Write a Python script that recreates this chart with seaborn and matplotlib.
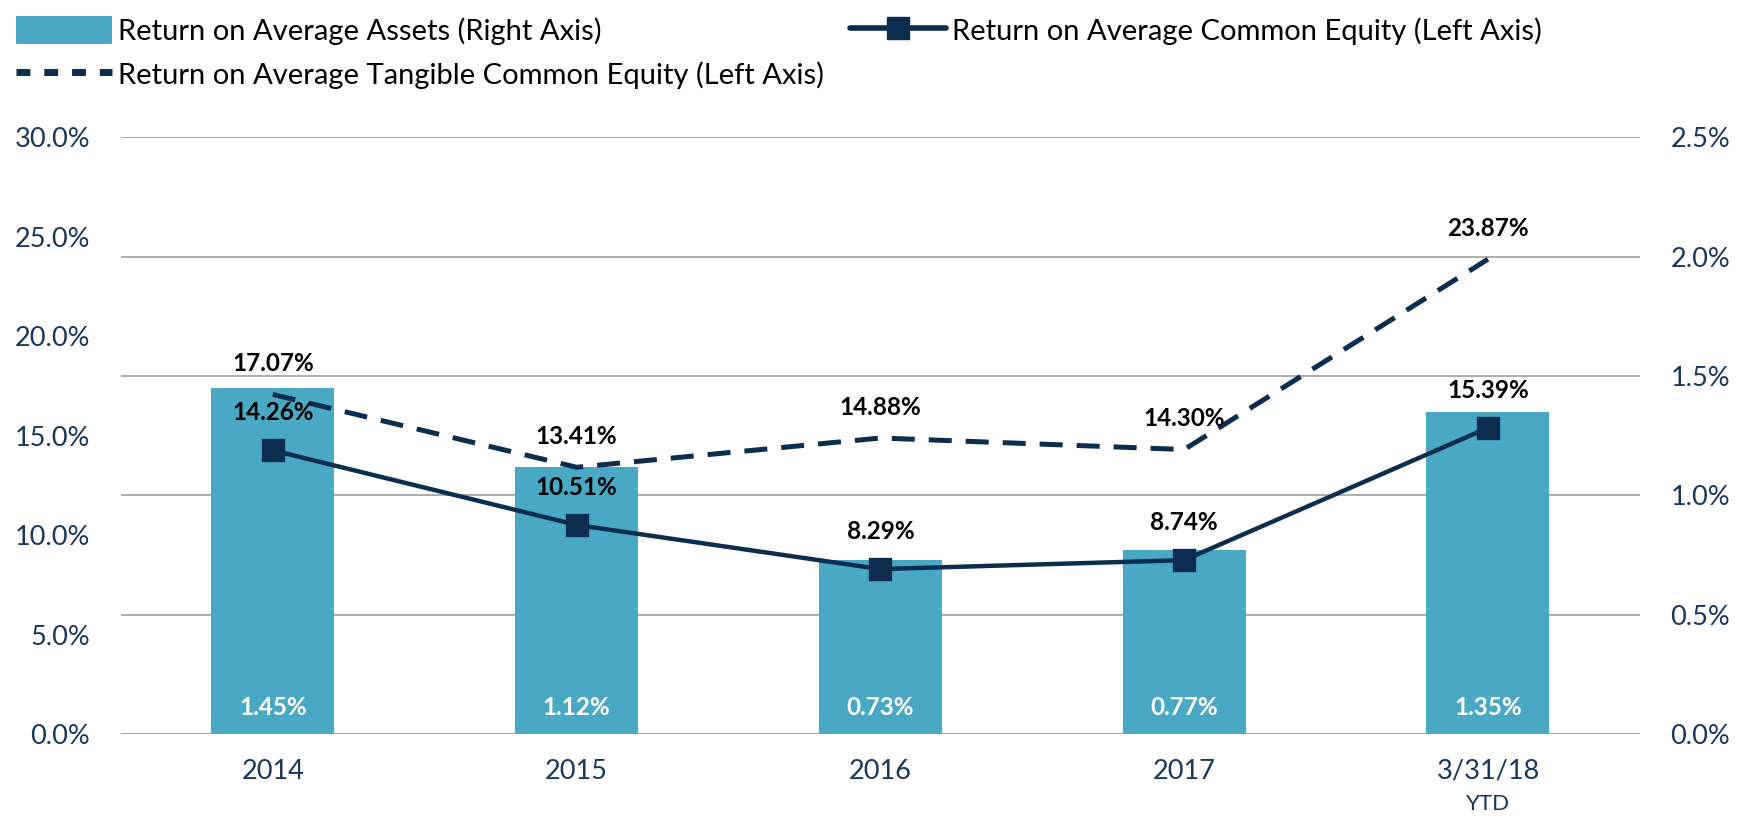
import matplotlib
matplotlib.use("Agg")
import matplotlib.pyplot as plt
import matplotlib.ticker as mticker
from matplotlib.patches import Patch
from matplotlib.lines import Line2D
import seaborn as sns

# chart data
periods = ["2014", "2015", "2016", "2017", "3/31/18"]
roaa = [1.45, 1.12, 0.73, 0.77, 1.35]        # right axis, %
roace = [14.26, 10.51, 8.29, 8.74, 15.39]    # left axis, %
rotce = [17.07, 13.41, 14.88, 14.30, 23.87]  # left axis, %

BAR_COLOR = "#49A9C5"
NAVY = "#0B2D4E"
TICK_COLOR = "#17375E"
GRID_COLOR = "#A6A6A6"

sns.set_theme(style="white")
plt.rcParams["font.family"] = ["Lato", "DejaVu Sans"]

fig = plt.figure(figsize=(17.52, 8.17), dpi=100)
ax = fig.add_axes([0.069, 0.1016, 0.867, 0.7304])
ax2 = ax.twinx()

# bars on the right axis, drawn behind the lines
sns.barplot(x=periods, y=roaa, ax=ax2, color=BAR_COLOR, width=0.405,
            saturation=1, edgecolor="none", zorder=2)
ax2.set_ylim(0, 2.5)
ax2.yaxis.set_major_locator(mticker.MultipleLocator(0.5))
ax2.yaxis.set_major_formatter(mticker.FuncFormatter(lambda v, p: f"{v:.1f}%"))
ax2.grid(axis="y", color=GRID_COLOR, linewidth=1.3, zorder=0)
ax2.set_axisbelow(True)

ax.set_zorder(ax2.get_zorder() + 1)
ax.patch.set_visible(False)

sns.pointplot(x=periods, y=rotce, ax=ax, color=NAVY, markers="",
              linestyles="--", linewidth=3.6)
sns.pointplot(x=periods, y=roace, ax=ax, color=NAVY, markers="s",
              linestyles="-", linewidth=3.2, markersize=15)
for ln in ax.lines[:1]:
    ln.set_dashes((4.6, 2.8))

ax.set_ylim(0, 30)
ax.set_xlim(-0.5, 4.5)
ax.yaxis.set_major_locator(mticker.MultipleLocator(5))
ax.yaxis.set_major_formatter(mticker.FuncFormatter(lambda v, p: f"{v:.1f}%"))
ax.grid(False)

for a in (ax, ax2):
    for s in a.spines.values():
        s.set_visible(False)
    a.set_xlabel("")
    a.set_ylabel("")
    a.tick_params(axis="both", length=0, labelsize=19.5, labelcolor=TICK_COLOR)
ax.tick_params(axis="y", pad=22)
ax2.tick_params(axis="y", pad=22)
ax.tick_params(axis="x", pad=18)

# x-axis baseline
ax2.axhline(0, color=GRID_COLOR, linewidth=2, zorder=1)

# YTD sub-label under the last period
ax.text(4, -0.1, "YTD", transform=ax.get_xaxis_transform(), ha="center",
        va="top", fontsize=16, color=TICK_COLOR)

# data labels
for i, v in enumerate(rotce):
    ax.annotate(f"{v:.2f}%", (i, v), xytext=(0, 22), textcoords="offset points",
                ha="center", va="center", fontsize=17.5, fontweight="bold", color="black")
for i, v in enumerate(roace):
    ax.annotate(f"{v:.2f}%", (i, v), xytext=(0, 27), textcoords="offset points",
                ha="center", va="center", fontsize=17.5, fontweight="bold", color="black")
for i, v in enumerate(roaa):
    ax2.text(i, 0.11, f"{v:.2f}%", ha="center", va="center", fontsize=17.5,
             fontweight="bold", color="white", zorder=3)

handles = [
    Patch(facecolor=BAR_COLOR, edgecolor="none"),
    Line2D([], [], color=NAVY, linestyle=(0, (2.0, 2.0)), linewidth=5),
    Line2D([], [], color=NAVY, marker="s", markersize=16, linewidth=4),
]
labels = [
    "Return on Average Assets (Right Axis)",
    "Return on Average Tangible Common Equity (Left Axis)",
    "Return on Average Common Equity (Left Axis)",
]
fig.legend(handles, labels, ncol=2, loc="upper left", bbox_to_anchor=(-0.006, 1.012),
           frameon=False, fontsize=21, handlelength=3.3, handleheight=1.1,
           handletextpad=0.2, columnspacing=0.9, labelspacing=0.5,
           labelcolor="black")

fig.savefig("out.png", dpi=100)
